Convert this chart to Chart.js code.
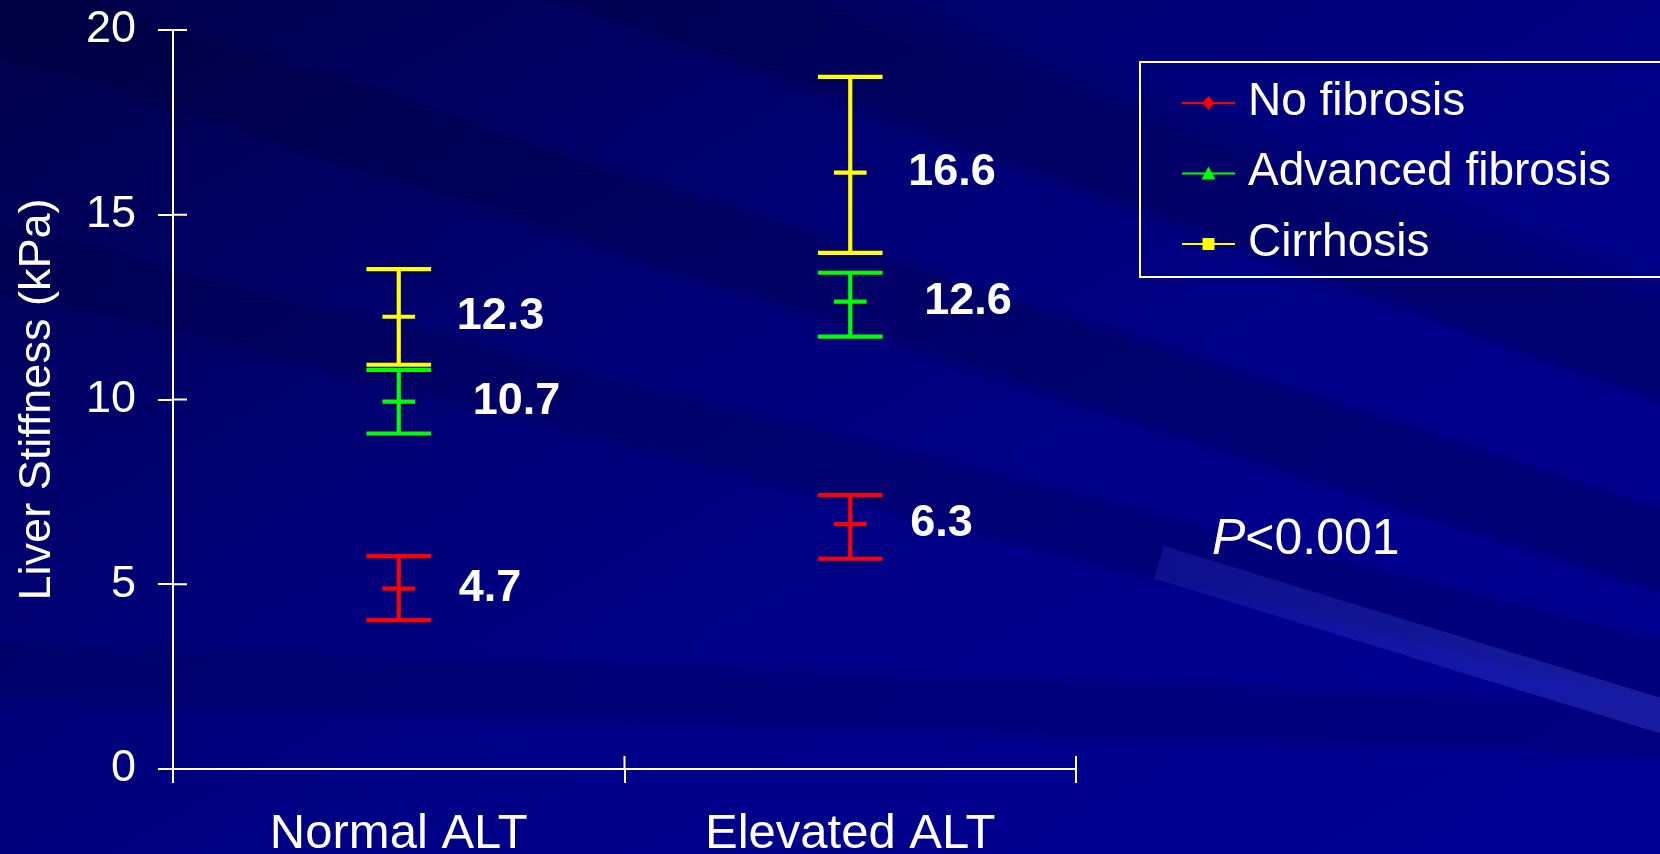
<!DOCTYPE html>
<html lang="en">
<head>
  <meta charset="UTF-8" />
  <title>Liver Stiffness by ALT</title>
  <style>
    html, body { margin: 0; padding: 0; overflow: hidden; background: #000080; }
    #wrap {
      position: relative;
      width: 1660px;
      height: 854px;
      overflow: hidden;
      background:
        linear-gradient(200deg, rgba(0,0,50,0) 0%, rgba(0,0,50,0) 18%, rgba(0,0,50,0.30) 22%, rgba(0,0,50,0.30) 27%, rgba(0,0,50,0) 28%),
        linear-gradient(198deg, rgba(0,0,50,0) 0%, rgba(0,0,50,0) 36%, rgba(0,0,50,0.28) 37%, rgba(0,0,50,0.28) 42%, rgba(0,0,50,0) 43%),
        linear-gradient(194deg, rgba(0,0,50,0) 0%, rgba(0,0,50,0) 50%, rgba(0,0,50,0.22) 51%, rgba(0,0,50,0.22) 55%, rgba(0,0,50,0) 56%),
        linear-gradient(182deg, rgba(0,0,50,0) 0%, rgba(0,0,50,0) 76%, rgba(0,0,50,0.18) 78%, rgba(0,0,50,0.18) 82%, rgba(0,0,50,0) 84%),
        linear-gradient(150deg, #000048 0%, #00005e 18%, #000078 40%, #000088 62%, #000094 100%);
    }
    .streak {
      position: absolute;
      left: 1164px;
      top: 546px;
      width: 700px;
      height: 34px;
      transform-origin: 0 0;
      transform: rotate(17deg);
      background: linear-gradient(90deg, rgba(60,70,220,0.22), rgba(90,100,240,0.32));
    }
    canvas { position: absolute; left: 0; top: 0; }
  </style>
</head>
<body>
  <div id="wrap">
    <div class="streak"></div>
    <canvas id="stiffChart" width="1660" height="854"></canvas>
  </div>

  <script src="https://cdn.jsdelivr.net/npm/chart.js"></script>

  <script>
    const categories = ['Normal ALT', 'Elevated ALT'];
    const seriesNames = ['No fibrosis', 'Advanced fibrosis', 'Cirrhosis'];
    const seriesColors = ['#ff0000', '#00ff00', '#ffff00'];

    // centre mark and whisker ends as drawn (kPa)
    const noFibMean = [4.88, 6.63];
    const noFibLow = [4.03, 5.69];
    const noFibHigh = [5.76, 7.41];
    const advMean = [9.94, 12.65];
    const advLow = [9.08, 11.70];
    const advHigh = [10.80, 13.43];
    const cirMean = [12.24, 16.14];
    const cirLow = [10.94, 13.97];
    const cirHigh = [13.53, 18.73];

    // printed values next to each bar
    const noFibText = ['4.7', '6.3'];
    const advText = ['10.7', '12.6'];
    const cirText = ['12.3', '16.6'];

    const yMin = 0, yMax = 20, yStep = 5;
    const yTitle = 'Liver Stiffness (kPa)';
    const pText = ['P', '<0.001'];

    const means = [noFibMean, advMean, cirMean];
    const lows = [noFibLow, advLow, cirLow];
    const highs = [noFibHigh, advHigh, cirHigh];
    const valueTexts = [noFibText, advText, cirText];
    const textDx = [60, 74, 58];

    const FONT = "'Liberation Sans', Arial, sans-serif";
    Chart.defaults.color = '#ffffff';
    Chart.defaults.font.family = FONT;

    // cap / centre marks are thin floating bars; half their stroke in kPa
    const half = 0.048;
    const mark = arr => arr.map(v => [v - half, v + half]);

    const datasets = [];
    seriesNames.forEach((name, s) => {
      const c = seriesColors[s];
      const common = { type: 'bar', backgroundColor: c, grouped: false, order: 3 - s };
      datasets.push(Object.assign({ label: name + ' range', data: lows[s].map((lo, i) => [lo, highs[s][i]]), barThickness: 3.5 }, common));
      datasets.push(Object.assign({ label: name + ' high', data: mark(highs[s]), barThickness: 64 }, common));
      datasets.push(Object.assign({ label: name + ' low', data: mark(lows[s]), barThickness: 64 }, common));
      datasets.push(Object.assign({ label: name, data: mark(means[s]), barThickness: 32 }, common));
    });

    const extras = {
      id: 'extras',
      afterDraw(chart) {
        const ctx = chart.ctx;
        const area = chart.chartArea;
        const ys = chart.scales.y;
        ctx.save();

        // inner halves of the crossing tick marks
        ctx.strokeStyle = '#ffffff';
        ctx.lineWidth = 2;
        ctx.beginPath();
        for (let v = yMin; v <= yMax; v += yStep) {
          const py = ys.getPixelForValue(v);
          ctx.moveTo(area.left, py);
          ctx.lineTo(area.left + 14, py);
        }
        [area.left, (area.left + area.right) / 2, area.right].forEach(px => {
          ctx.moveTo(px, area.bottom);
          ctx.lineTo(px, area.bottom - 13);
        });
        ctx.stroke();

        // value labels beside each bar
        ctx.fillStyle = '#ffffff';
        ctx.font = 'bold 45px ' + FONT;
        ctx.textAlign = 'left';
        ctx.textBaseline = 'middle';
        seriesNames.forEach((name, s) => {
          const meta = chart.getDatasetMeta(s * 4 + 3);
          meta.data.forEach((el, i) => {
            ctx.fillText(valueTexts[s][i], el.x + textDx[s], (el.y + el.base) / 2);
          });
        });

        // legend
        ctx.strokeStyle = '#ffffff';
        ctx.lineWidth = 2;
        ctx.strokeRect(1140, 62, 560, 215);
        ctx.font = '46px ' + FONT;
        seriesNames.forEach((name, s) => {
          const ly = 103 + s * 70.5;
          ctx.strokeStyle = seriesColors[s];
          ctx.fillStyle = seriesColors[s];
          ctx.lineWidth = 2;
          ctx.beginPath();
          ctx.moveTo(1182, ly);
          ctx.lineTo(1235, ly);
          ctx.stroke();
          const mx = 1208.5;
          ctx.beginPath();
          if (s === 0) {
            ctx.moveTo(mx, ly - 7); ctx.lineTo(mx + 6, ly); ctx.lineTo(mx, ly + 7); ctx.lineTo(mx - 6, ly);
          } else if (s === 1) {
            ctx.moveTo(mx, ly - 7); ctx.lineTo(mx + 7, ly + 6); ctx.lineTo(mx - 7, ly + 6);
          } else {
            ctx.rect(mx - 6, ly - 6, 12, 12);
          }
          ctx.closePath();
          ctx.fill();
          ctx.fillStyle = '#ffffff';
          ctx.textBaseline = 'middle';
          ctx.fillText(name, 1248, ly - 1);
        });

        // p value
        ctx.textBaseline = 'alphabetic';
        ctx.font = 'italic 50px ' + FONT;
        ctx.fillText(pText[0], 1212, 554);
        const w = ctx.measureText(pText[0]).width;
        ctx.font = '50px ' + FONT;
        ctx.fillText(pText[1], 1212 + w, 554);
        ctx.restore();
      }
    };

    new Chart(document.getElementById('stiffChart').getContext('2d'), {
      type: 'bar',
      data: { labels: categories, datasets: datasets },
      options: {
        responsive: false,
        animation: false,
        layout: { padding: { top: 30, right: 584, left: 0, bottom: 0 } },
        plugins: { legend: { display: false }, tooltip: { enabled: false } },
        scales: {
          x: {
            type: 'category',
            offset: true,
            grid: { offset: true, drawOnChartArea: false, color: '#ffffff', lineWidth: 2, tickLength: 14 },
            border: { color: '#ffffff', width: 2 },
            ticks: { color: '#ffffff', font: { size: 49 }, padding: 22 },
            afterFit(scale) { scale.height = 85; }
          },
          y: {
            min: yMin, max: yMax,
            grid: { drawOnChartArea: false, color: '#ffffff', lineWidth: 2, tickLength: 15 },
            border: { color: '#ffffff', width: 2 },
            ticks: { stepSize: yStep, color: '#ffffff', font: { size: 45, lineHeight: 0.3 }, padding: 22 },
            title: { display: true, text: yTitle, color: '#ffffff', font: { size: 45, lineHeight: 1.2 }, padding: { top: 11, bottom: 0 } },
            afterFit(scale) { scale.width = 173; }
          }
        }
      },
      plugins: [extras]
    });
  </script>
</body>
</html>
